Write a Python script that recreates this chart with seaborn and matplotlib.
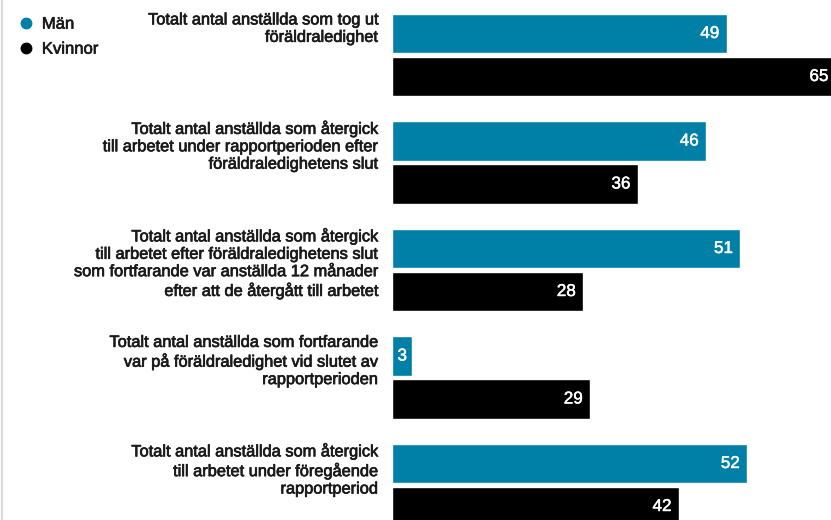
import matplotlib
matplotlib.use("Agg")
import matplotlib.pyplot as plt
import matplotlib.transforms as mtransforms
import matplotlib.patheffects as pe
from matplotlib.lines import Line2D
import pandas as pd
import seaborn as sns

# Category labels (left side) and counts per gender
categories = [
    "Totalt antal anställda som tog ut\nföräldraledighet",
    "Totalt antal anställda som återgick\ntill arbetet under rapportperioden efter\nföräldraledighetens slut",
    "Totalt antal anställda som återgick\ntill arbetet efter föräldraledighetens slut\nsom fortfarande var anställda 12 månader\nefter att de återgått till arbetet",
    "Totalt antal anställda som fortfarande\nvar på föräldraledighet vid slutet av\nrapportperioden",
    "Totalt antal anställda som återgick\ntill arbetet under föregående\nrapportperiod",
]
series_names = ["Män", "Kvinnor"]
man_values = [49, 46, 51, 3, 52]
woman_values = [65, 36, 28, 29, 42]

colors = {"Män": "#0080A6", "Kvinnor": "#000000"}
text_color = "#1A1A1A"

df = pd.DataFrame({
    "kategori": categories * 2,
    "kön": [series_names[0]] * len(categories) + [series_names[1]] * len(categories),
    "antal": man_values + woman_values,
})

sns.set_theme(style="white")
plt.rcParams["font.family"] = ["Liberation Sans", "DejaVu Sans"]


def medium(color, lw=0.45):
    # slightly heavier than regular weight
    return [pe.withStroke(linewidth=lw, foreground=color)]


W, H = 831, 520
fig = plt.figure(figsize=(W / 100, H / 100), dpi=100)
left_px = 392
ax = fig.add_axes([left_px / W, 0, 1 - left_px / W, 1])

sns.barplot(
    data=df, y="kategori", x="antal", hue="kön",
    hue_order=series_names, palette=colors, order=categories,
    orient="h", width=0.8, gap=0.09, saturation=1, ax=ax, legend=False,
)

ax.set_xlim(0, 64.3)
ax.set_ylim(4.3256, -0.5116)
ax.set_xlabel("")
ax.set_ylabel("")
ax.set_xticks([])
ax.set_yticks([])
for s in ax.spines.values():
    s.set_visible(False)
ax.set_facecolor("none")

# Value labels inside the bar ends
px_per_unit = (W - left_px) / 64.3
for container, vals in zip(ax.containers, [man_values, woman_values]):
    for rect, v in zip(container, vals):
        yc = rect.get_y() + rect.get_height() / 2
        if v * px_per_unit < 30:
            ax.text(v / 2, yc, str(v), ha="center", va="center",
                    color="white", fontsize=12.3,
                    path_effects=medium("white", 0.35))
        else:
            ax.annotate(str(v), xy=(v, yc), xytext=(-5.2, 0),
                        textcoords="offset points", ha="right", va="center",
                        color="white", fontsize=12.3, annotation_clip=False,
                        path_effects=medium("white", 0.35))

# Category labels, top-aligned with the first bar of each group
blend = mtransforms.blended_transform_factory(ax.transAxes, ax.transData)
for i, label in enumerate(categories):
    ax.annotate(label, xy=(0, i - 0.4), xycoords=blend,
                xytext=(-10, -0.3), textcoords="offset points",
                ha="right", va="top", fontsize=11.8,
                linespacing=1.2, color=text_color, annotation_clip=False,
                path_effects=medium(text_color, 0.5))

# Legend in the top-left corner
handles = [
    Line2D([0], [0], marker="o", linestyle="none", markersize=7.5,
           markerfacecolor=colors[n], markeredgecolor=colors[n], label=n)
    for n in series_names
]
leg = fig.legend(handles=handles, loc="upper left",
                 bbox_to_anchor=(6 / W, 1 - 5 / H), bbox_transform=fig.transFigure,
                 frameon=False, fontsize=12, handletextpad=0.45, labelspacing=0.6,
                 handlelength=1.0, borderpad=0.2)
for t in leg.get_texts():
    t.set_color(text_color)
    t.set_path_effects(medium(text_color, 0.45))

# Thin grey rule along the left edge
fig.add_artist(Line2D([1.5 / W, 1.5 / W], [0, 1], transform=fig.transFigure,
                      color="#DCDCDC", linewidth=1.6))

fig.savefig("out.png", dpi=100)
